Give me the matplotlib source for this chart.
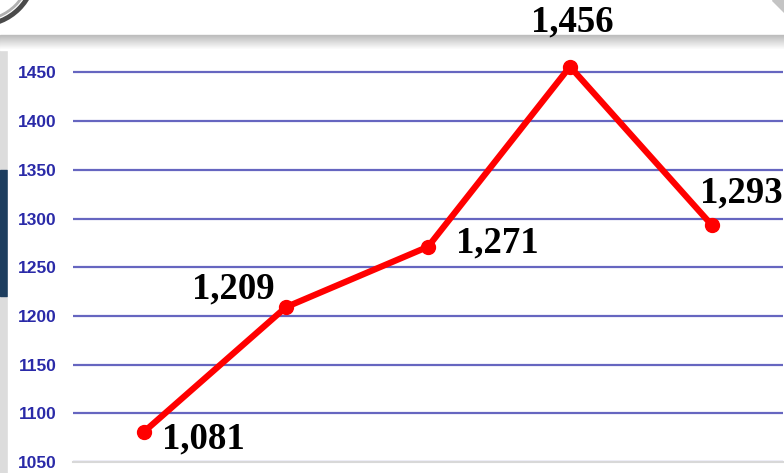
import matplotlib
matplotlib.use("Agg")
import matplotlib.pyplot as plt
import numpy as np
from matplotlib.patches import Rectangle, Circle

# 数据
categories = ["1", "2", "3", "4", "5"]
values = [1081, 1209, 1271, 1456, 1293]
value_labels = ["1,081", "1,209", "1,271", "1,456", "1,293"]
yticks = [1050, 1100, 1150, 1200, 1250, 1300, 1350, 1400, 1450]

# 标注偏移 (points)
label_offsets = [(43, -5), (-38, 13), (50, 3), (1.5, 32), (21, 23)]

W, H = 784, 473
fig = plt.figure(figsize=(W / 100, H / 100), dpi=100)
fig.patch.set_facecolor("white")


def px_rect(x0, y0, x1, y1, **kw):
    """像素坐标矩形 -> figure 坐标"""
    return Rectangle((x0 / W, 1 - y1 / H), (x1 - x0) / W, (y1 - y0) / H,
                     transform=fig.transFigure, **kw)


# 左侧灰条和深蓝色块
fig.patches.append(px_rect(0, 40, 8, H, color="#dcdcdc", zorder=0))
fig.patches.append(px_rect(0, 170, 7, 296, color="#1d3d5e", zorder=1))
# 面板阴影
for i in range(15):
    g = 0.74 + 0.26 * (i / 14)
    fig.patches.append(px_rect(0, 35 + i, W, 36 + i, color=(g, g, g), zorder=0))
fig.patches.append(px_rect(8, 50, W, H, color="white", zorder=1))

# 左上角徽标 / 右上角
ax_logo = fig.add_axes([0, 0, 1, 1], zorder=2)
ax_logo.set_xlim(0, W)
ax_logo.set_ylim(H, 0)
ax_logo.axis("off")
ax_logo.add_patch(Circle((-20, -30), 55, fill=False, ec="#4a4a4a", lw=3.5))
ax_logo.add_patch(Circle((-20, -30), 50, fill=False, ec="#b0b0b0", lw=2))
ax_logo.fill([772, W, W], [0, 0, 12], color="#c4c4c4")

# 主图
ax = fig.add_axes([73 / W, 11 / H, 710 / W, 430 * 0.974 / H], zorder=3)
ax.set_facecolor("none")
x = np.arange(len(categories))
ax.plot(x, values, color="#ff0000", lw=4.5, marker="o", ms=10,
        solid_capstyle="round", zorder=4, clip_on=False)

ax.set_xlim(-0.5, 4.5)
ax.set_ylim(1050, 1480)
ax.set_yticks(yticks)
ax.set_yticklabels([str(v) for v in yticks], color="#2a2aa8",
                   fontsize=12.5, fontweight="bold", family="Liberation Sans")
ax.set_xticks([])
ax.tick_params(axis="y", length=0, pad=12)
ax.yaxis.grid(True, color="#6666c0", lw=1.6)
ax.set_axisbelow(True)
for s in ["top", "right", "left"]:
    ax.spines[s].set_visible(False)
ax.spines["bottom"].set_color("#d8d8d8")
ax.spines["bottom"].set_linewidth(1.5)

for xi, v, lab, off in zip(x, values, value_labels, label_offsets):
    ax.annotate(lab, (xi, v), xytext=off, textcoords="offset points",
                ha="center", va="center", fontsize=26.5, fontweight="bold",
                family="Liberation Serif", color="black",
                annotation_clip=False, zorder=5)

fig.savefig("out.png", dpi=100)
